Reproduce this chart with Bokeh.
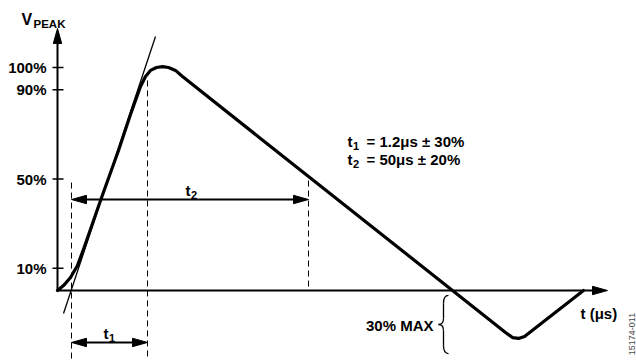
import math
from bokeh.plotting import figure
from bokeh.models import Range1d
from bokeh.core.properties import value
from bokeh.embed import file_html
from bokeh.resources import INLINE

# ---------------- data (t in drawing units, v in % of V_PEAK) ----------------
wave_t = [0, 6, 13, 20, 27, 43, 61, 73, 83, 88, 93, 99, 105, 111, 118, 125, 203, 395, 448, 455, 461, 467, 526]
wave_v = [0, 2.2, 5.8, 11.2, 19.7, 40.4, 62.8, 78.9, 91.5, 96.0, 98.7, 100.0, 100.4, 100.0, 98.7, 96.0, 68.2, 0, -18.8, -21.1, -21.5, -20.6, 0]

tangent_t = [6, 98]
tangent_v = [-10.3, 113.9]

ytick_v = [10, 50, 90, 100]
ytick_labels = ["10%", "50%", "90%", "100%"]

t1_start, t1_end, t2_end = 14, 90, 251
t2_level = 40.8          # height of the t2 dimension arrow
t1_level = -23.3         # height of the t1 dimension arrow
dash_tops = [48.4, 94.2, 49.3]

axis_t_end = 550
axis_v_end = 117.5
undershoot = [-2.2, -28.3]   # brace range for "30% MAX"

spec_lines = [("t", "1", "= 1.2μs ± 30%"), ("t", "2", "= 50μs ± 20%")]

# ---------------- figure ----------------
PX_X = 1.0
PX_Y = 2.23
W, H = 636, 360
x0 = -57
y_top = 290 / PX_Y
p = figure(width=W, height=H, output_backend="svg", toolbar_location=None,
           x_range=Range1d(x0, x0 + W / PX_X), y_range=Range1d(y_top - H / PX_Y, y_top),
           min_border=0)
p.axis.visible = False
p.grid.visible = False
p.outline_line_color = None
p.background_fill_color = "white"
p.border_fill_color = "white"

y_bottom = y_top - H / PX_Y
FONT = value("Liberation Sans")


def head(tip_t, tip_v, dx, dy, L=15, Wd=4.2):
    px, py = -dy, dx
    xs = [tip_t, tip_t + (-dx * L + px * Wd) / PX_X, tip_t + (-dx * L - px * Wd) / PX_X]
    ys = [tip_v, tip_v + (-dy * L + py * Wd) / PX_Y, tip_v + (-dy * L - py * Wd) / PX_Y]
    return xs, ys

heads_x, heads_y = [], []

# axes
p.line([0, 0], [0, axis_v_end - 10 / PX_Y], line_width=2, line_color="black")
p.line([0, axis_t_end - 10], [0, 0], line_width=2, line_color="black")
for hx, hy in [head(0, axis_v_end, 0, 1), head(axis_t_end, 0, 1, 0)]:
    heads_x.append(hx); heads_y.append(hy)

# y ticks and labels
p.segment(x0=[-5] * len(ytick_v), y0=ytick_v, x1=[6] * len(ytick_v), y1=ytick_v,
          line_width=1.5, line_color="black")
p.text(x=[-11] * len(ytick_v), y=ytick_v, text=ytick_labels, text_font=FONT,
       text_font_style="bold", text_font_size=value("15px"), text_align="right",
       text_baseline="middle", text_color="black")

# dashed guide lines
dash_t = [t1_start, t1_end, t2_end]
dash_bot = [y_bottom, y_bottom, 0]
p.segment(x0=dash_t, y0=dash_tops, x1=dash_t, y1=dash_bot, line_dash="6 4",
          line_width=1, line_color="black")

# tangent line
p.line(tangent_t, tangent_v, line_width=1.3, line_color="black")

# waveform
p.line(wave_t, wave_v, line_width=3.2, line_color="black", line_join="round", line_cap="round")

# dimension arrows
for a, b, lv in [(t1_start, t2_end, t2_level), (t1_start, t1_end, t1_level)]:
    p.line([a + 10, b - 10], [lv, lv], line_width=2, line_color="black")
    for hx, hy in [head(a, lv, -1, 0), head(b, lv, 1, 0)]:
        heads_x.append(hx); heads_y.append(hy)

p.patches(heads_x, heads_y, fill_color="black", line_color="black", line_width=1)

# texts
def txt(x, y, s, size, align="left", baseline="alphabetic", style="bold", color="black", angle=0):
    p.text(x=[x], y=[y], text=[s], text_font=FONT, text_font_style=style,
           text_font_size=value(size), text_align=align, text_baseline=baseline,
           text_color=color, angle=angle)

# V_PEAK
txt(-36, (290 - 19) / PX_Y, "V", "16px")
txt(-24, (290 - 23) / PX_Y, "PEAK", "11.5px")

# t2 label and t1 label
txt(128, 44.8, "t", "15px")
txt(133.5, 43.0, "2", "11px")
txt(46, -19.3, "t", "15px")
txt(51.5, -21.1, "1", "11px")

# spec lines
for i, (a, sub, rest) in enumerate(spec_lines):
    base = 66.8 - i * 8.1
    txt(290, base, a, "15px")
    txt(295.5, base - 1.8, sub, "11px")
    txt(309, base, rest, "15px")

# 30% MAX and brace
txt(376, -15.7, "30% MAX", "15px", align="right", baseline="middle")
top, bot = undershoot
mid = (top + bot) / 2
sx = 386
def bz(p0, p3, c0, c1):
    return dict(x0=p0[0], y0=p0[1], x1=p3[0], y1=p3[1], cx0=c0[0], cy0=c0[1], cx1=c1[0], cy1=c1[1])
segs = []
up = 1 / PX_Y
segs.append(bz((sx + 5, top), (sx, top - 8 * up), (sx + 2, top), (sx, top - 3 * up)))
segs.append(bz((sx, mid + 6 * up), (sx - 5, mid), (sx, mid + 2 * up), (sx - 2, mid)))
segs.append(bz((sx - 5, mid), (sx, mid - 6 * up), (sx - 2, mid), (sx, mid - 2 * up)))
segs.append(bz((sx, bot + 8 * up), (sx + 5, bot), (sx, bot + 3 * up), (sx + 2, bot)))
cols = {k: [s[k] for s in segs] for k in segs[0]}
p.bezier(**cols, line_width=1.3, line_color="black")
p.segment(x0=[sx, sx], y0=[top - 8 * up, mid - 6 * up], x1=[sx, sx], y1=[mid + 6 * up, bot + 8 * up],
          line_width=1.3, line_color="black")

# axis label
txt(523, -10.3, "t (μs)", "15px", baseline="middle")

# figure id
txt(574, -19.5, "15174-011", "9px", align="center", baseline="middle", style="normal",
    color="#444444", angle=math.pi / 2)

open("out.html", "w").write(file_html(p, INLINE))
